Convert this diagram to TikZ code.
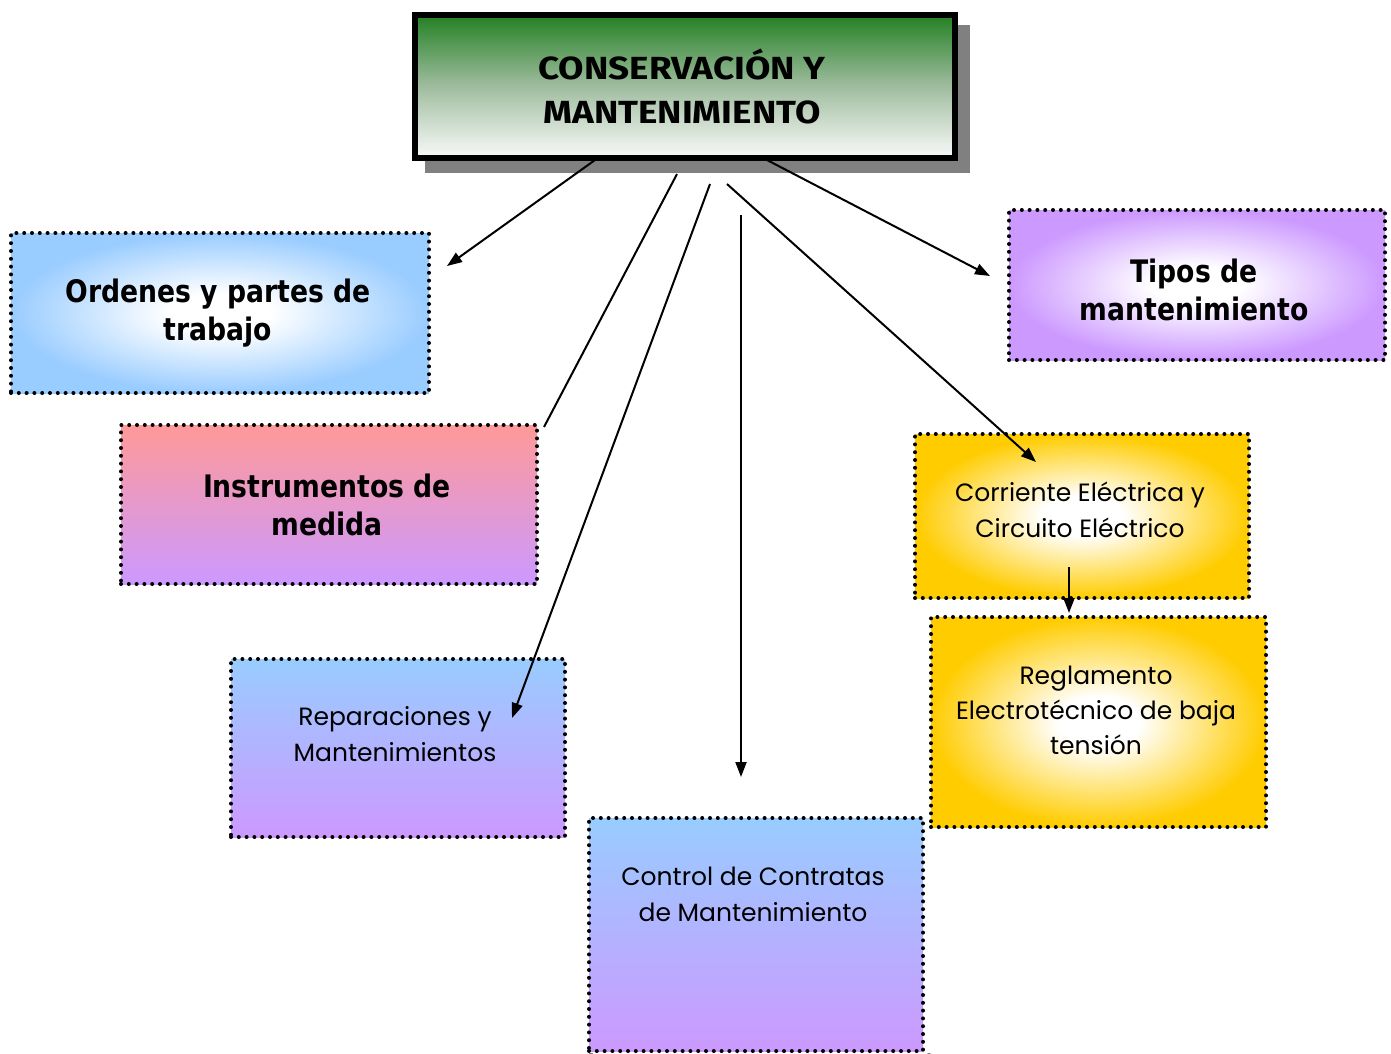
\documentclass[tikz,border=0pt]{standalone}
\usepackage{fontspec}
\setmainfont{Poppins}
\newfontfamily\boldfont{DejaVu Sans}[FakeStretch=0.86]
\newfontfamily\titlefont{Fira Sans}[FakeStretch=1.15]
\usetikzlibrary{arrows.meta}
\pgfdeclarelayer{bg}\pgfsetlayers{bg,main}
\definecolor{lblue}{RGB}{153,204,255}
\definecolor{lpurple}{RGB}{204,153,255}
\definecolor{lpink}{RGB}{255,153,153}
\definecolor{gold}{RGB}{255,204,0}
\definecolor{tgreen}{RGB}{36,128,36}
\definecolor{shgray}{RGB}{128,128,128}
\pgfdeclareradialshading{glowblue}{\pgfpoint{0bp}{0bp}}{color(0bp)=(white);color(6bp)=(white);color(25bp)=(lblue);color(50bp)=(lblue)}
\pgfdeclareradialshading{glowpurple}{\pgfpoint{0bp}{0bp}}{color(0bp)=(white);color(6bp)=(white);color(25bp)=(lpurple);color(50bp)=(lpurple)}
\pgfdeclareradialshading{glowgold}{\pgfpoint{0bp}{0bp}}{color(0bp)=(white);color(6bp)=(white);color(25bp)=(gold);color(50bp)=(gold)}
\tikzset{
  dotbox/.style={draw=black, line width=4pt, dash pattern=on 0pt off 7.8pt, line cap=round,
    inner sep=0pt, anchor=north west},
  dotshadow/.style={draw=shgray, line width=4pt, dash pattern=on 0pt off 7.8pt, line cap=round},
  boldtext/.style={font=\boldfont\bfseries\fontsize{31}{38}\selectfont, align=center, inner sep=0pt},
  plaintext/.style={font=\fontsize{25}{36}\selectfont, align=center, inner sep=0pt},
  conn/.style={line width=2pt},
  arr/.style={line width=2pt, -{Triangle[length=15pt,width=11pt]}},
}
\begin{document}
\begin{tikzpicture}[x=1pt,y=-1pt]
\useasboundingbox[fill=white] (0,0) rectangle (1391,1053);
% title
\fill[shgray] (425,25) rectangle (970,173);
\node[draw=black, line width=6pt, inner sep=0pt, anchor=north west, minimum width=540pt, minimum height=143pt,
  top color=tgreen, bottom color=white!96!gray, middle color=tgreen!40!white!80!gray] (title) at (412,12) {};
\node[font=\titlefont\bfseries\fontsize{32}{44}\selectfont, align=center, inner sep=0pt] (titleT) at (682,86) {CONSERVACIÓN Y\\MANTENIMIENTO};
% boxes
\node[dotbox, minimum width=418pt, minimum height=160pt, shading=glowblue] (ord) at (9,231) {};
\node[dotbox, minimum width=416pt, minimum height=159pt, top color=lpink, bottom color=lpurple] (inst) at (119,423) {};
\node[dotbox, minimum width=334pt, minimum height=178pt, top color=lblue, bottom color=lpurple] (rep) at (229,657) {};
\node[dotbox, minimum width=334pt, minimum height=233pt, top color=lblue, bottom color=lpurple] (ctrl) at (587,816) {};
\node[dotbox, minimum width=376pt, minimum height=150pt, shading=glowpurple] (tipos) at (1007,208) {};
\node[dotbox, minimum width=334pt, minimum height=164pt, shading=glowgold] (corr) at (913,432) {};
\node[dotbox, minimum width=335pt, minimum height=210pt, shading=glowgold] (regl) at (929,615) {};
\begin{pgfonlayer}{bg}
\foreach \n in {ord,inst,rep,ctrl,tipos,corr,regl}
  \draw[dotshadow] ([shift={(4,4)}]\n.north west) rectangle ([shift={(4,4)}]\n.south east);
\end{pgfonlayer}
% texts
\node[boldtext] (ordT) at (218,313) {Ordenes y partes de\\trabajo};
\node[boldtext] (instT) at (327,505) {Instrumentos de\\medida};
\node[boldtext] (tiposT) at (1194,290) {Tipos de\\mantenimiento};
\node[plaintext] (repT) at (395,734) {Reparaciones y\\Mantenimientos};
\node[plaintext] (ctrlT) at (753,894) {Control de Contratas\\de Mantenimiento};
\node[plaintext] (corrT) at (1080,510) {Corriente Eléctrica y\\Circuito Eléctrico};
\node[plaintext, font=\fontsize{25}{35}\selectfont] (reglT) at (1096,710) {Reglamento\\Electrotécnico de baja\\tensión};
% connectors
\coordinate (c1s) at (595,160); \coordinate (c1e) at (447,266);
\coordinate (c2s) at (677,174);
\coordinate (c3s) at (710,184); \coordinate (c3e) at (512,718);
\coordinate (c4s) at (741,215); \coordinate (c4e) at (741,777);
\coordinate (c5s) at (727,184); \coordinate (c5e) at (1036,462);
\coordinate (c6s) at (767,160); \coordinate (c6e) at (990,276);
\coordinate (c7s) at (1069,567); \coordinate (c7e) at (1069,613);
\draw[arr] (c1s) -- (c1e);
\draw[conn] (c2s) -- ([shift={(5,4)}]inst.north east);
\draw[arr] (c3s) -- (c3e);
\draw[arr] (c4s) -- (c4e);
\draw[arr] (c5s) -- (c5e);
\draw[arr] (c6s) -- (c6e);
\draw[arr] (c7s) -- (c7e);
\end{tikzpicture}
\end{document}
